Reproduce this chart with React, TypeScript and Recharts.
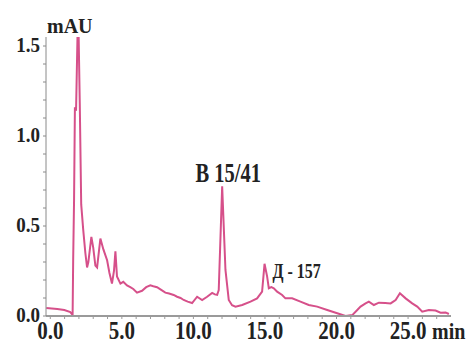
import React from 'react';
import { LineChart, Line, XAxis, YAxis, ReferenceDot } from 'recharts';

// retention time (min) and detector response (mAU)
const times = [
  -0.28, 0.49, 0.98, 1.4, 1.5, 1.56, 1.6, 1.66, 1.72, 1.8, 1.9, 1.98, 2.06, 2.16, 2.3, 2.45,
  2.57, 2.66, 2.87, 3.0, 3.15, 3.27, 3.5, 3.71, 3.97, 4.13, 4.31, 4.45, 4.55, 4.66, 4.9,
  5.1, 5.36, 5.59, 5.8, 6.06, 6.41, 6.7, 6.99, 7.2, 7.46, 7.75, 8.04, 8.3, 8.62, 8.86,
  9.1, 9.32, 9.6, 9.91, 10.26, 10.61, 10.96, 11.31, 11.5, 11.66, 11.77, 12.01, 12.24,
  12.47, 12.7, 12.94, 13.41, 13.99, 14.45, 14.8, 14.97, 15.15, 15.27, 15.45, 15.62, 15.85,
  16.2, 16.43, 16.9, 17.48, 18.06, 18.65, 19.35, 20.05, 20.63, 21.1, 21.45, 21.68, 22.03,
  22.26, 22.61, 22.96, 23.4, 23.78, 24.13, 24.43, 24.83, 25.29, 25.64, 25.99, 26.45, 26.92,
  27.27, 27.62, 27.85,
];
const mau = [
  0.044, 0.039, 0.033, 0.022, 0.011, 0.005, 0.32, 0.64, 1.16, 1.14, 1.55, 1.56, 1.18, 0.62, 0.48, 0.35,
  0.27, 0.3, 0.44, 0.38, 0.28, 0.27, 0.43, 0.37, 0.31, 0.24, 0.18, 0.25, 0.36, 0.22, 0.18,
  0.19, 0.17, 0.16, 0.15, 0.13, 0.14, 0.16, 0.17, 0.165, 0.16, 0.145, 0.13, 0.125, 0.117, 0.107,
  0.1, 0.089, 0.08, 0.072, 0.107, 0.089, 0.107, 0.128, 0.12, 0.117, 0.144, 0.72, 0.256,
  0.089, 0.06, 0.052, 0.061, 0.08, 0.098, 0.135, 0.29, 0.22, 0.154, 0.16, 0.154, 0.135,
  0.117, 0.098, 0.098, 0.08, 0.061, 0.052, 0.033, 0.015, 0.0, 0.005, 0.033, 0.052, 0.07,
  0.08, 0.061, 0.074, 0.072, 0.07, 0.089, 0.126, 0.098, 0.07, 0.052, 0.024, 0.033, 0.03,
  0.018, 0.02, 0.011,
];

const xTicks = [0, 1, 2, 3, 4, 5, 6, 7, 8, 9, 10, 11, 12, 13, 14, 15, 16, 17, 18, 19, 20, 21, 22, 23, 24, 25, 26, 27];
const xLabelled = [0, 5, 10, 15, 20, 25];
const yTicks = [0, 0.1, 0.2, 0.3, 0.4, 0.5, 0.6, 0.7, 0.8, 0.9, 1.0, 1.1, 1.2, 1.3, 1.4, 1.5];
const yLabelled = [0, 0.5, 1.0, 1.5];

const peakTimes = [12.01, 14.97];
const peakValues = [0.72, 0.29];
const peakNames = ['В 15/41', 'Д - 157'];

const data = times.map((t, i) => ({ t, v: mau[i] }));

const FONT = '"Liberation Serif", "DejaVu Serif", serif';
const INK = '#222';

const XTick = (props: any) => {
  const { x, y, payload } = props;
  const val = payload.value;
  if (!xLabelled.includes(val)) return null;
  const last = val === xLabelled[xLabelled.length - 1];
  return (
    <g transform={`translate(${x},${y + 18}) scale(1,1.2)`}>
      <text x={0} y={0} textAnchor="middle" fontFamily={FONT} fontWeight="bold" fontSize={21} fill={INK}>
        {val.toFixed(1)}
      </text>
      {last && (
        <text x={24} y={0} textAnchor="start" fontFamily={FONT} fontWeight="bold" fontSize={20} fill={INK}>
          min
        </text>
      )}
    </g>
  );
};

const YTick = (props: any) => {
  const { x, y, payload } = props;
  const val = payload.value;
  if (!yLabelled.some((l) => Math.abs(l - val) < 1e-6)) return null;
  return (
    <g transform={`translate(${x},${y + 6}) scale(1,1.1)`}>
      <text x={0} y={0} textAnchor="end" fontFamily={FONT} fontWeight="bold" fontSize={19} fill={INK}>
        {val.toFixed(1)}
      </text>
    </g>
  );
};

const peakLabel = (i: number) => (props: any) => {
  const vb = props.viewBox || {};
  const cx = vb.x + (vb.width || 0) / 2;
  const cy = vb.y + (vb.height || 0) / 2;
  if (i === 0) {
    return (
      <g transform={`translate(${cx + 6},${cy - 4}) scale(1,1.3)`}>
        <text textAnchor="middle" fontFamily={FONT} fontWeight="bold" fontSize={20.5} fill={INK}>
          {peakNames[i]}
        </text>
      </g>
    );
  }
  return (
    <g transform={`translate(${cx + 8},${cy + 14}) scale(1,1.3)`}>
      <text textAnchor="start" fontFamily={FONT} fontWeight="bold" fontSize={16} fill={INK}>
        {peakNames[i]}
      </text>
    </g>
  );
};

export default function App() {
  return (
    <div style={{ position: 'absolute', left: 0, top: 0, width: 470, height: 346, background: '#fff' }}>
      <LineChart width={470} height={346} data={data} margin={{ top: 37, right: 19, bottom: 0, left: 0 }}>
        <XAxis
          dataKey="t"
          type="number"
          domain={[-0.3, 28]}
          ticks={xTicks}
          interval={0}
          height={30}
          tickSize={3}
          tickMargin={2}
          axisLine={{ stroke: '#9a9a9a', strokeWidth: 2 }}
          tickLine={{ stroke: '#9a9a9a' }}
          tick={<XTick />}
        />
        <YAxis
          type="number"
          domain={[0, 1.55]}
          allowDataOverflow
          ticks={yTicks}
          interval={0}
          width={46}
          tickSize={3}
          tickMargin={3}
          axisLine={{ stroke: '#8a8a8a', strokeWidth: 1 }}
          tickLine={{ stroke: '#8a8a8a' }}
          tick={<YTick />}
        />
        <Line
          type="linear"
          dataKey="v"
          stroke="#d6508a"
          strokeWidth={2}
          dot={false}
          isAnimationActive={false}
        />
        {peakTimes.map((t, i) => (
          <ReferenceDot key={i} x={t} y={peakValues[i]} r={1} fill="none" stroke="none" label={peakLabel(i)} />
        ))}
        <text x={47} y={33} fontFamily={FONT} fontWeight="bold" fontSize={20} fill={INK}>
          mAU
        </text>
      </LineChart>
    </div>
  );
}
